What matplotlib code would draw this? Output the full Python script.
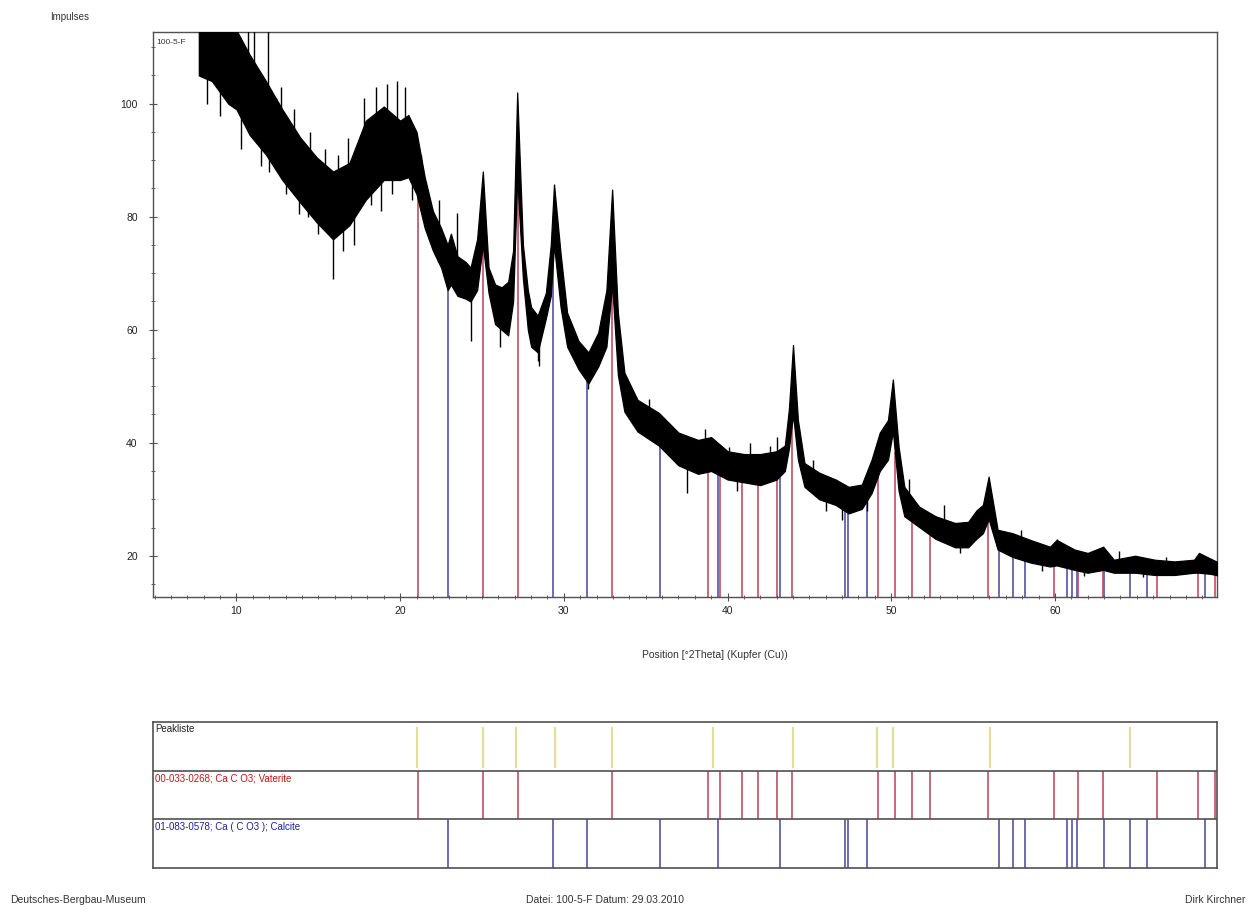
import numpy as np
import matplotlib.pyplot as plt

plt.rcParams['font.family'] = ['Liberation Sans', 'DejaVu Sans']

# measured pattern, read as the upper / lower edge of the noisy trace
two_theta = [7.7, 8.5, 9.5, 10.0, 10.8, 11.8, 12.8, 13.9, 14.9, 15.9, 16.9, 17.9,
             19.0, 20.0, 20.5, 21.0, 21.5, 22.0, 22.5, 22.9, 23.1, 23.5, 24.0, 24.3,
             24.7, 25.05, 25.4, 25.8, 26.2, 26.6, 26.9, 27.15, 27.5, 27.8, 28.0, 28.4,
             28.9, 29.2, 29.4, 29.8, 30.2, 30.9, 31.5, 32.1, 32.6, 32.95, 33.3, 33.7,
             34.5, 35.8, 37.0, 38.2, 39.0, 40.0, 41.0, 42.0, 43.0, 43.5, 43.75, 44.0,
             44.3, 44.7, 45.6, 46.6, 47.4, 48.2, 48.8, 49.3, 49.8, 50.1, 50.45, 50.8,
             51.7, 52.7, 53.9, 54.7, 55.2, 55.6, 55.95, 56.5, 57.4, 58.5, 59.7, 60.1,
             61.2, 62.0, 62.95, 63.6, 64.9, 66.1, 67.3, 68.5, 68.8, 69.5, 70.0]
upper = [116, 116, 116, 113, 108.7, 104, 99, 94, 90.5, 88, 89.5, 97,
         99.5, 97, 98, 95, 87, 81, 78, 75, 77, 73, 72, 71,
         76, 88, 71, 68, 67.5, 68.5, 74, 102, 75, 67, 64, 62.5,
         66.5, 75, 85.7, 73.5, 63, 58, 56, 59.5, 67, 84.8, 63, 52.4,
         47.6, 45.3, 41.8, 40.5, 41, 38.5, 38, 38, 38.5, 39.5, 46, 57.3,
         44, 36.4, 34.7, 33.5, 32.2, 32.6, 37, 41.8, 44, 51.2, 39.3, 32.2,
         28.7, 27, 25.8, 26, 28, 29, 34, 24.6, 24, 22.8, 21.6, 22.8,
         21.1, 20.5, 21.6, 19.3, 20, 19.3, 19, 19.3, 20.5, 19.5, 18.8]
lower = [105, 104, 100, 99, 94.5, 91, 86.5, 82.5, 79, 76, 78.5, 83,
         86.5, 86.5, 87, 84, 78, 74, 71, 67, 68, 66, 65.5, 65,
         67, 75, 66.5, 61, 60, 59, 65, 87, 69, 60, 57, 56,
         62, 66, 75, 64, 57, 53, 50.5, 53.5, 57, 68, 52, 45.5,
         42, 39.5, 36, 34.5, 35, 33.5, 33, 32.5, 33.5, 35, 39, 45,
         37, 32.2, 30, 29, 27.5, 28.3, 31.1, 35, 37, 42, 31.5, 27,
         25.1, 23, 21.5, 21.5, 23, 24, 26.5, 21.1, 19.8, 18.8, 18.1, 18.3,
         17.5, 17, 17.5, 17, 17, 16.6, 16.6, 17, 17, 16.8, 16.5]

# single noise spikes sticking out of the band (position, tip)
spike_pos = [8.2, 9.0, 9.6, 10.3, 10.7, 11.1, 11.5, 11.9, 12.0, 12.4, 12.7, 13.0,
             13.5, 13.8, 14.4, 14.5, 15.0, 15.4, 15.9, 16.2, 16.5, 16.8, 17.2, 17.5,
             17.8, 18.2, 18.5, 18.8, 19.2, 19.5, 19.8, 20.3, 20.7, 21.3, 22.3, 22.4,
             23.45, 24.3, 26.1, 28.4, 28.5, 31.5, 35.2, 36.6, 37.5, 38.6, 40.1, 40.6,
             41.35, 42.6, 43.0, 45.2, 46.0, 47.0, 48.5, 51.1, 52.1, 53.2, 54.2, 57.9,
             59.2, 60.1, 61.8, 63.9, 65.4, 66.8, 68.8]
spike_tip = [100, 97.8, 113, 92, 113, 113, 89, 113, 88, 101, 103, 84,
             99, 80.5, 80, 95, 77, 92, 69, 91, 74, 94, 75, 93,
             101, 82, 103, 81, 103.5, 84, 104, 103, 83, 91, 72, 83,
             80.7, 58, 57, 54.4, 53.5, 49.5, 47.8, 38, 31.1, 42.5, 39.3, 31.5,
             39.9, 39.5, 41, 37, 28, 26.4, 28, 33.5, 24.5, 29, 20.5, 24.5,
             17.3, 23, 16.4, 20.8, 16.2, 19.8, 20.5]

# reference patterns
vaterite = [21.06, 25.04, 27.18, 32.92, 38.79, 39.52, 40.87, 41.85, 43.01, 43.93,
            49.19, 50.22, 51.26, 52.36, 55.9, 59.94, 61.4, 62.93, 66.23, 68.74, 69.78]
calcite = [22.9, 29.32, 31.39, 35.86, 39.4, 43.19, 47.16, 47.35, 48.5, 56.58,
           57.43, 58.17, 60.73, 61.04, 61.34, 63.0, 64.58, 65.62, 69.17]
peaklist = [21.0, 25.04, 27.1, 29.44, 32.92, 39.1, 43.98, 49.12, 50.1, 56.03, 64.58]

x_lo, x_hi = 4.9, 69.9
y_lo, y_hi = 12.7, 112.7

vat_col = '#c86878'
cal_col = '#6c6cb0'
frame_col = '#505050'

fig = plt.figure(figsize=(12.55, 9.13), dpi=100)

# main diffractogram
ax = fig.add_axes([0.1219, 0.3461, 0.8478, 0.6189])
band_mid = (np.array(upper) + np.array(lower)) / 2
ax.vlines(vaterite, y_lo, np.interp(vaterite, two_theta, lower), color=vat_col, lw=1.4, zorder=1)
ax.vlines(calcite, y_lo, np.interp(calcite, two_theta, lower), color=cal_col, lw=1.4, zorder=1)
ax.fill_between(two_theta, lower, upper, color='black', lw=0.9, zorder=3)
ax.vlines(spike_pos, np.interp(spike_pos, two_theta, band_mid), spike_tip, color='black', lw=1.0, zorder=3)
ax.text(5.1, 111.5, '100-5-F', fontsize=6, va='top', ha='left', color='#333333', zorder=2)

ax.set_xlim(x_lo, x_hi)
ax.set_ylim(y_lo, y_hi)
ax.set_xticks([10, 20, 30, 40, 50, 60])
ax.set_xticks(np.arange(5, 70, 1), minor=True)
ax.set_yticks([20, 40, 60, 80, 100])
ax.set_yticks(np.arange(15, 112, 5), minor=True)
ax.tick_params(axis='both', which='major', labelsize=7.5, length=6, width=0.8,
               direction='inout', colors=frame_col, labelcolor='#222222')
ax.tick_params(axis='y', which='major', pad=8)
ax.tick_params(axis='both', which='minor', length=3, width=0.6, direction='inout', colors=frame_col)
for s in ax.spines.values():
    s.set_color(frame_col)
    s.set_linewidth(1.0)

fig.text(50 / 1255, 1 - 17 / 913, 'Impulses', fontsize=7, ha='left', va='center', color='#333333')
fig.text(715 / 1255, 1 - 655 / 913, 'Position [°2Theta] (Kupfer (Cu))', fontsize=7.5,
         ha='center', va='center', color='#333333')

# reference pattern panel
ax2 = fig.add_axes([0.1219, 0.0493, 0.8478, 0.1599])
ax2.set_xlim(x_lo, x_hi)
ax2.set_ylim(0, 3)
ax2.vlines(peaklist, 2.05, 2.9, color='#e4dc9c', lw=1.6)
ax2.vlines(vaterite, 1, 2, color=vat_col, lw=1.4)
ax2.vlines(calcite, 0, 1, color=cal_col, lw=1.4)
ax2.axhline(1, color=frame_col, lw=1.2)
ax2.axhline(2, color=frame_col, lw=1.2)
ax2.set_xticks([])
ax2.set_yticks([])
for s in ax2.spines.values():
    s.set_color(frame_col)
    s.set_linewidth(1.2)
ax2.text(5.05, 2.95, 'Peakliste', fontsize=7, ha='left', va='top', color='#222222')
ax2.text(5.05, 1.95, '00-033-0268; Ca C O3; Vaterite', fontsize=7, ha='left', va='top', color='#c01818')
ax2.text(5.05, 0.95, '01-083-0578; Ca ( C O3 ); Calcite', fontsize=7, ha='left', va='top', color='#2020a0')

# footer
fig.text(10 / 1255, 1 - 900 / 913, 'Deutsches-Bergbau-Museum', fontsize=7.5, ha='left', va='center', color='#333333')
fig.text(605 / 1255, 1 - 900 / 913, 'Datei: 100-5-F Datum: 29.03.2010', fontsize=7.5, ha='center', va='center', color='#333333')
fig.text(1245 / 1255, 1 - 900 / 913, 'Dirk Kirchner', fontsize=7.5, ha='right', va='center', color='#333333')

fig.savefig('out.png', dpi=100)
